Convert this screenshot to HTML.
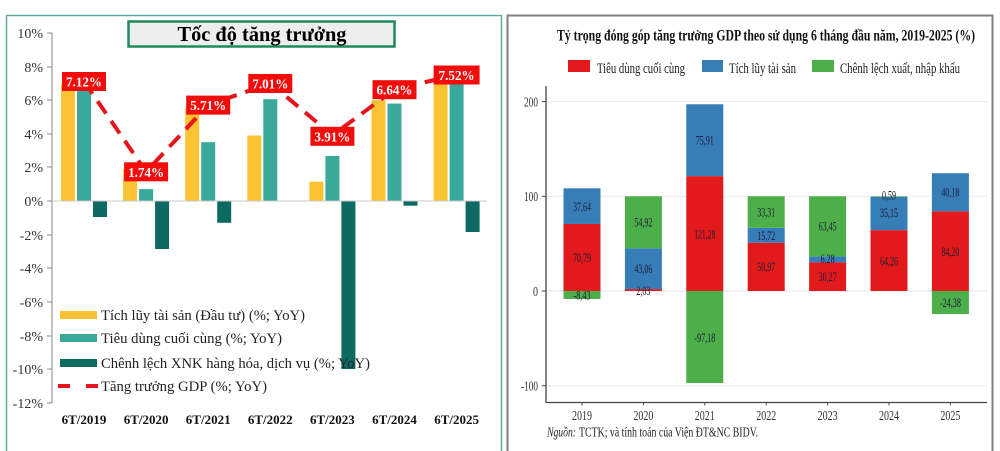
<!DOCTYPE html>
<html>
<head>
<meta charset="utf-8">
<style>
html,body{margin:0;padding:0;background:#fff;}
svg{display:block;}
text{font-family:"Liberation Serif","DejaVu Serif",serif;}
</style>
</head>
<body>
<svg width="1000" height="451" viewBox="0 0 1000 451" xmlns="http://www.w3.org/2000/svg">
<rect x="0" y="0" width="1000" height="451" fill="#fff"/>

<!-- ============ LEFT PANEL ============ -->
<path d="M6.5 451 V15.5 H501.5 V451" fill="none" stroke="#5ea9a2" stroke-width="1.5"/>

<!-- y axis -->
<line x1="52" y1="33" x2="52" y2="403" stroke="#8a8a8a" stroke-width="1"/>
<g stroke="#8a8a8a" stroke-width="1">
<line x1="47" y1="33" x2="52" y2="33"/>
<line x1="47" y1="67" x2="52" y2="67"/>
<line x1="47" y1="100" x2="52" y2="100"/>
<line x1="47" y1="134" x2="52" y2="134"/>
<line x1="47" y1="167" x2="52" y2="167"/>
<line x1="47" y1="201" x2="52" y2="201"/>
<line x1="47" y1="235" x2="52" y2="235"/>
<line x1="47" y1="268" x2="52" y2="268"/>
<line x1="47" y1="302" x2="52" y2="302"/>
<line x1="47" y1="336" x2="52" y2="336"/>
<line x1="47" y1="369" x2="52" y2="369"/>
<line x1="47" y1="403" x2="52" y2="403"/>
</g>
<g font-size="14" fill="#333" text-anchor="end">
<text x="43" y="38">10%</text>
<text x="43" y="72">8%</text>
<text x="43" y="105">6%</text>
<text x="43" y="139">4%</text>
<text x="43" y="172">2%</text>
<text x="43" y="206">0%</text>
<text x="43" y="240">-2%</text>
<text x="43" y="273">-4%</text>
<text x="43" y="307">-6%</text>
<text x="43" y="341">-8%</text>
<text x="43" y="374">-10%</text>
<text x="43" y="408">-12%</text>
</g>

<!-- bars -->
<g>
<!-- 2019 -->
<rect x="61" y="83.4" width="14" height="117.6" fill="#fbc332"/>
<rect x="77" y="83.4" width="14" height="117.6" fill="#3aa99b"/>
<rect x="93" y="201" width="14" height="16" fill="#0d6a63"/>
<!-- 2020 -->
<rect x="123.1" y="169.1" width="14" height="31.9" fill="#fbc332"/>
<rect x="139.1" y="189.1" width="14" height="11.9" fill="#3aa99b"/>
<rect x="155.1" y="201" width="14" height="48" fill="#0d6a63"/>
<!-- 2021 -->
<rect x="185.2" y="108.6" width="14" height="92.4" fill="#fbc332"/>
<rect x="201.2" y="142.2" width="14" height="58.8" fill="#3aa99b"/>
<rect x="217.2" y="201" width="14" height="21.8" fill="#0d6a63"/>
<!-- 2022 -->
<rect x="247.3" y="135.5" width="14" height="65.5" fill="#fbc332"/>
<rect x="263.3" y="99.2" width="14" height="101.8" fill="#3aa99b"/>
<!-- 2023 -->
<rect x="309.4" y="181.7" width="14" height="19.3" fill="#fbc332"/>
<rect x="325.4" y="156" width="14" height="45" fill="#3aa99b"/>
<rect x="341.4" y="201" width="14" height="168" fill="#0d6a63"/>
<!-- 2024 -->
<rect x="371.5" y="100.2" width="14" height="100.8" fill="#fbc332"/>
<rect x="387.5" y="103.6" width="14" height="97.4" fill="#3aa99b"/>
<rect x="403.5" y="201" width="14" height="4.7" fill="#0d6a63"/>
<!-- 2025 -->
<rect x="433.6" y="78.4" width="14" height="122.6" fill="#fbc332"/>
<rect x="449.6" y="78.4" width="14" height="122.6" fill="#3aa99b"/>
<rect x="465.6" y="201" width="14" height="31" fill="#0d6a63"/>
</g>

<!-- zero line -->
<line x1="52" y1="201" x2="487" y2="201" stroke="#c8c8c8" stroke-width="1"/>

<!-- GDP dashed line -->
<polyline points="84,81.4 146.1,171.8 208.2,105.1 270.3,83.2 332.4,135.3 394.5,89.4 456.6,74.7" fill="none" stroke="#e8141b" stroke-width="4" stroke-dasharray="15 9"/>

<!-- GDP labels -->
<g font-size="14" font-weight="bold" fill="#fff" text-anchor="middle">
<rect x="62" y="72" width="44" height="19" fill="#f20d0d"/>
<text x="84" y="86.5" textLength="36" lengthAdjust="spacingAndGlyphs">7.12%</text>
<rect x="124.1" y="162.3" width="44" height="19" fill="#f20d0d"/>
<text x="146.1" y="176.8" textLength="36" lengthAdjust="spacingAndGlyphs">1.74%</text>
<rect x="186.2" y="95.6" width="44" height="19" fill="#f20d0d"/>
<text x="208.2" y="110.1" textLength="36" lengthAdjust="spacingAndGlyphs">5.71%</text>
<rect x="248.3" y="74" width="44" height="19" fill="#f20d0d"/>
<text x="270.3" y="88.5" textLength="36" lengthAdjust="spacingAndGlyphs">7.01%</text>
<rect x="310.4" y="126.8" width="44" height="19" fill="#f20d0d"/>
<text x="332.4" y="141.3" textLength="36" lengthAdjust="spacingAndGlyphs">3.91%</text>
<rect x="372.5" y="80.2" width="44" height="19" fill="#f20d0d"/>
<text x="394.5" y="94.7" textLength="36" lengthAdjust="spacingAndGlyphs">6.64%</text>
<rect x="433.6" y="65.5" width="46" height="19" fill="#f20d0d"/>
<text x="456.6" y="80" textLength="36" lengthAdjust="spacingAndGlyphs">7.52%</text>
</g>

<!-- title box -->
<rect x="128.5" y="21.5" width="266" height="25" fill="#eeeeee" stroke="#1f8a5e" stroke-width="2.5"/>
<text x="262" y="41" font-size="21" font-weight="bold" fill="#000" text-anchor="middle" textLength="169" lengthAdjust="spacingAndGlyphs">Tốc độ tăng trưởng</text>

<!-- x labels -->
<g font-size="13" font-weight="bold" fill="#111" text-anchor="middle">
<text x="84" y="424">6T/2019</text>
<text x="146.1" y="424">6T/2020</text>
<text x="208.2" y="424">6T/2021</text>
<text x="270.3" y="424">6T/2022</text>
<text x="332.4" y="424">6T/2023</text>
<text x="394.5" y="424">6T/2024</text>
<text x="456.6" y="424">6T/2025</text>
</g>

<!-- legend -->
<rect x="60" y="311" width="37" height="8" fill="#fbc332"/>
<rect x="60" y="334" width="37" height="8" fill="#3aa99b"/>
<rect x="60" y="359" width="37" height="8" fill="#0d6a63"/>
<line x1="58" y1="386" x2="70" y2="386" stroke="#e8141b" stroke-width="4"/>
<line x1="86" y1="386" x2="98" y2="386" stroke="#e8141b" stroke-width="4"/>
<g font-size="15" fill="#222">
<text x="101" y="320" textLength="204" lengthAdjust="spacingAndGlyphs">Tích lũy tài sản (Đầu tư) (%; YoY)</text>
<text x="101" y="343" textLength="181" lengthAdjust="spacingAndGlyphs">Tiêu dùng cuối cùng (%; YoY)</text>
<text x="101" y="368" textLength="269" lengthAdjust="spacingAndGlyphs">Chênh lệch XNK hàng hóa, dịch vụ (%; YoY)</text>
<text x="101" y="391" textLength="166" lengthAdjust="spacingAndGlyphs">Tăng trưởng GDP (%; YoY)</text>
</g>

<!-- ============ RIGHT PANEL ============ -->
<path d="M507.5 451 V15.5 H992.5 V451" fill="none" stroke="#7f7f7f" stroke-width="2"/>

<!-- title -->
<text x="557" y="40.5" font-size="16" font-weight="bold" fill="#111" textLength="418" lengthAdjust="spacingAndGlyphs">Tỷ trọng đóng góp tăng trưởng GDP theo sử dụng 6 tháng đầu năm, 2019-2025 (%)</text>

<!-- legend -->
<rect x="568" y="60" width="22" height="12" fill="#e31a1c"/>
<rect x="702" y="60" width="21" height="12" fill="#377eb8"/>
<rect x="812" y="60" width="22" height="12" fill="#4daf4a"/>
<g font-size="15" fill="#222">
<text x="597" y="73" textLength="88" lengthAdjust="spacingAndGlyphs">Tiêu dùng cuối cùng</text>
<text x="729" y="73" textLength="67" lengthAdjust="spacingAndGlyphs">Tích lũy tài sản</text>
<text x="840" y="73" textLength="120" lengthAdjust="spacingAndGlyphs">Chênh lệch xuất, nhập khẩu</text>
</g>

<!-- gridlines -->
<g stroke="#ececec" stroke-width="1.2">
<line x1="546" y1="101.6" x2="987" y2="101.6"/>
<line x1="546" y1="196.3" x2="987" y2="196.3"/>
<line x1="546" y1="291" x2="987" y2="291"/>
<line x1="546" y1="385.7" x2="987" y2="385.7"/>
</g>

<!-- bars -->
<g>
<!-- 2019 -->
<rect x="563.5" y="223.96" width="37" height="67.04" fill="#e31a1c"/>
<rect x="563.5" y="188.32" width="37" height="35.65" fill="#377eb8"/>
<rect x="563.5" y="291" width="37" height="7.98" fill="#4daf4a"/>
<!-- 2020 -->
<rect x="624.9" y="289.08" width="37" height="1.92" fill="#e31a1c"/>
<rect x="624.9" y="248.3" width="37" height="40.78" fill="#377eb8"/>
<rect x="624.9" y="196.29" width="37" height="52.01" fill="#4daf4a"/>
<!-- 2021 -->
<rect x="686.3" y="176.15" width="37" height="114.85" fill="#e31a1c"/>
<rect x="686.3" y="104.26" width="37" height="71.89" fill="#377eb8"/>
<rect x="686.3" y="291" width="37" height="92.03" fill="#4daf4a"/>
<!-- 2022 -->
<rect x="747.7" y="242.73" width="37" height="48.27" fill="#e31a1c"/>
<rect x="747.7" y="227.84" width="37" height="14.89" fill="#377eb8"/>
<rect x="747.7" y="196.3" width="37" height="31.54" fill="#4daf4a"/>
<!-- 2023 -->
<rect x="809.1" y="262.33" width="37" height="28.67" fill="#e31a1c"/>
<rect x="809.1" y="256.39" width="37" height="5.95" fill="#377eb8"/>
<rect x="809.1" y="196.3" width="37" height="60.09" fill="#4daf4a"/>
<!-- 2024 -->
<rect x="870.5" y="230.15" width="37" height="60.85" fill="#e31a1c"/>
<rect x="870.5" y="196.86" width="37" height="33.29" fill="#377eb8"/>
<rect x="870.5" y="196.3" width="37" height="0.6" fill="#4daf4a"/>
<!-- 2025 -->
<rect x="931.9" y="211.26" width="37" height="79.74" fill="#e31a1c"/>
<rect x="931.9" y="173.21" width="37" height="38.05" fill="#377eb8"/>
<rect x="931.9" y="291" width="37" height="23.09" fill="#4daf4a"/>
</g>

<!-- segment labels -->
<g font-size="13" fill="#1c1c34" text-anchor="middle">
<text x="582" y="262" textLength="18" lengthAdjust="spacingAndGlyphs">70,79</text>
<text x="582" y="211" textLength="18" lengthAdjust="spacingAndGlyphs">37,64</text>
<text x="582" y="299.5" textLength="17" lengthAdjust="spacingAndGlyphs">-8,43</text>
<text x="643.4" y="295" textLength="14" lengthAdjust="spacingAndGlyphs">2,03</text>
<text x="643.4" y="273" textLength="18" lengthAdjust="spacingAndGlyphs">43,06</text>
<text x="643.4" y="226.5" textLength="18" lengthAdjust="spacingAndGlyphs">54,92</text>
<text x="704.8" y="238.5" textLength="21" lengthAdjust="spacingAndGlyphs">121,28</text>
<text x="704.8" y="144.5" textLength="18" lengthAdjust="spacingAndGlyphs">75,91</text>
<text x="704.8" y="342" textLength="21" lengthAdjust="spacingAndGlyphs">-97,18</text>
<text x="766.2" y="271" textLength="18" lengthAdjust="spacingAndGlyphs">50,97</text>
<text x="766.2" y="240" textLength="18" lengthAdjust="spacingAndGlyphs">15,72</text>
<text x="766.2" y="216.5" textLength="18" lengthAdjust="spacingAndGlyphs">33,31</text>
<text x="827.6" y="281" textLength="18" lengthAdjust="spacingAndGlyphs">30,27</text>
<text x="827.6" y="263" textLength="14" lengthAdjust="spacingAndGlyphs">6,28</text>
<text x="827.6" y="230.5" textLength="18" lengthAdjust="spacingAndGlyphs">63,45</text>
<text x="889" y="265.5" textLength="18" lengthAdjust="spacingAndGlyphs">64,26</text>
<text x="889" y="217" textLength="18" lengthAdjust="spacingAndGlyphs">35,15</text>
<text x="889" y="199.5" textLength="14" lengthAdjust="spacingAndGlyphs">0,59</text>
<text x="950.4" y="256" textLength="18" lengthAdjust="spacingAndGlyphs">84,20</text>
<text x="950.4" y="196.5" textLength="18" lengthAdjust="spacingAndGlyphs">40,18</text>
<text x="950.4" y="307" textLength="21" lengthAdjust="spacingAndGlyphs">-24,38</text>
</g>

<!-- axes -->
<line x1="546" y1="86" x2="546" y2="402.5" stroke="#444" stroke-width="1.3"/>
<line x1="546" y1="402.5" x2="987" y2="402.5" stroke="#444" stroke-width="1.3"/>
<g stroke="#444" stroke-width="1">
<line x1="542" y1="101.6" x2="546" y2="101.6"/>
<line x1="542" y1="196.3" x2="546" y2="196.3"/>
<line x1="542" y1="291" x2="546" y2="291"/>
<line x1="542" y1="385.7" x2="546" y2="385.7"/>
<line x1="582" y1="402.5" x2="582" y2="405.5"/>
<line x1="643.4" y1="402.5" x2="643.4" y2="405.5"/>
<line x1="704.8" y1="402.5" x2="704.8" y2="405.5"/>
<line x1="766.2" y1="402.5" x2="766.2" y2="405.5"/>
<line x1="827.6" y1="402.5" x2="827.6" y2="405.5"/>
<line x1="889" y1="402.5" x2="889" y2="405.5"/>
<line x1="950.4" y1="402.5" x2="950.4" y2="405.5"/>
</g>
<g font-size="14" fill="#333" text-anchor="end">
<text x="538" y="106.5" textLength="14" lengthAdjust="spacingAndGlyphs">200</text>
<text x="538" y="201" textLength="14" lengthAdjust="spacingAndGlyphs">100</text>
<text x="538" y="296" textLength="5" lengthAdjust="spacingAndGlyphs">0</text>
<text x="538" y="390.5" textLength="17" lengthAdjust="spacingAndGlyphs">-100</text>
</g>
<g font-size="14" fill="#333" text-anchor="middle">
<text x="582" y="420" textLength="20" lengthAdjust="spacingAndGlyphs">2019</text>
<text x="643.4" y="420" textLength="20" lengthAdjust="spacingAndGlyphs">2020</text>
<text x="704.8" y="420" textLength="20" lengthAdjust="spacingAndGlyphs">2021</text>
<text x="766.2" y="420" textLength="20" lengthAdjust="spacingAndGlyphs">2022</text>
<text x="827.6" y="420" textLength="20" lengthAdjust="spacingAndGlyphs">2023</text>
<text x="889" y="420" textLength="20" lengthAdjust="spacingAndGlyphs">2024</text>
<text x="950.4" y="420" textLength="20" lengthAdjust="spacingAndGlyphs">2025</text>
</g>

<!-- source -->
<text x="547" y="436.5" font-size="14" font-style="italic" fill="#222" textLength="29" lengthAdjust="spacingAndGlyphs">Nguồn:</text>
<text x="579" y="436.5" font-size="14" fill="#222" textLength="179" lengthAdjust="spacingAndGlyphs">TCTK; và tính toán của Viện ĐT&amp;NC BIDV.</text>
</svg>
</body>
</html>
